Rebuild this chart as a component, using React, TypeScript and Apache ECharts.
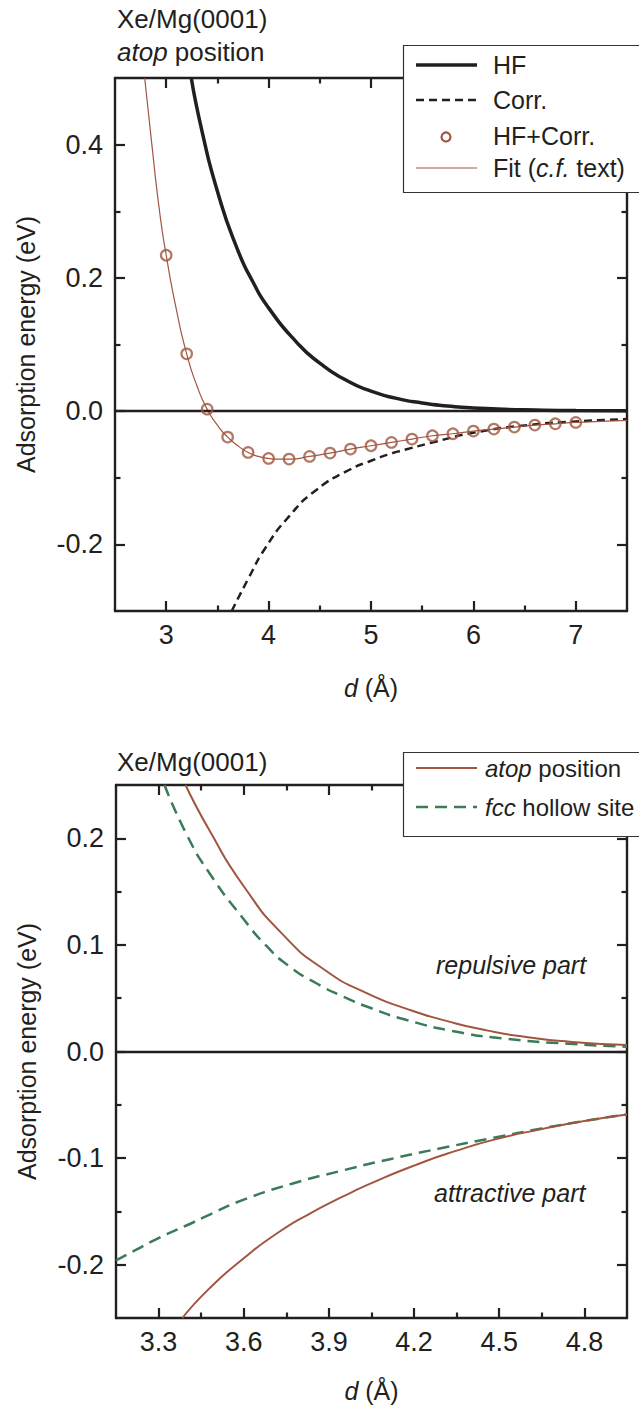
import React, { useEffect, useRef } from "react";
import * as echarts from "echarts";

const FONT = '"Liberation Sans", Arial, Helvetica, sans-serif';
const INK = "#231f20";
const BROWN = "#a0563f";
const GREEN = "#3b7b58";
const FS = 25;
const TICK_FS = 27;
const TITLE_FS = 26;

// ---------- top panel ----------
const topXMajor = [3, 4, 5, 6, 7];
const topXMinor = [3.5, 4.5, 5.5, 6.5];
const topYMajor = [-0.2, 0, 0.2, 0.4];
const topYMinor = [-0.1, 0.1, 0.3];

const hfCurve = [
  [3.245, 0.5], [3.35, 0.42], [3.5, 0.33], [3.69, 0.245], [3.85, 0.193], [4.0, 0.155],
  [4.27, 0.104], [4.5, 0.072], [4.75, 0.047], [5.0, 0.03], [5.25, 0.0192], [5.5, 0.0122],
  [5.75, 0.0077], [6.0, 0.0048], [6.5, 0.0019], [7.0, 0.0008], [7.5, 0.0004],
];
const corrCurve = [
  [3.64, -0.3], [3.81, -0.249], [3.97, -0.205], [4.2, -0.158], [4.46, -0.119],
  [4.79, -0.088], [5.0, -0.0745], [5.18, -0.0645], [5.33, -0.058], [5.64, -0.0455],
  [6.0, -0.0325], [6.5, -0.0215], [7.0, -0.0155], [7.5, -0.012],
];
const hfCorrD = [3.0, 3.2, 3.4, 3.6, 3.8, 4.0, 4.2, 4.4, 4.6, 4.8, 5.0, 5.2, 5.4, 5.6, 5.8, 6.0, 6.2, 6.4, 6.6, 6.8, 7.0];
const hfCorrE = [0.234, 0.086, 0.003, -0.039, -0.062, -0.071, -0.072, -0.068, -0.063, -0.057, -0.052, -0.047, -0.042, -0.037, -0.034, -0.03, -0.027, -0.024, -0.021, -0.019, -0.017];
const fitCurve = [
  [2.79, 0.5], [2.86, 0.4], [2.935, 0.3], [3.0, 0.234], [3.1, 0.152], [3.2, 0.086],
  [3.3, 0.038], [3.4, 0.003], [3.5, -0.021], [3.6, -0.039], [3.7, -0.052], [3.8, -0.062],
  [3.9, -0.068], [4.0, -0.071], [4.1, -0.072], [4.2, -0.072], [4.4, -0.068], [4.6, -0.063],
  [4.8, -0.057], [5.0, -0.052], [5.2, -0.047], [5.4, -0.042], [5.6, -0.037], [5.8, -0.034],
  [6.0, -0.03], [6.2, -0.027], [6.4, -0.024], [6.6, -0.021], [6.8, -0.019], [7.0, -0.017],
  [7.25, -0.0155], [7.5, -0.014],
];

// ---------- bottom panel ----------
const botXMajor = [3.3, 3.6, 3.9, 4.2, 4.5, 4.8];
const botXMinor = [3.45, 3.75, 4.05, 4.35, 4.65];
const botYMajor = [-0.2, -0.1, 0, 0.1, 0.2];
const botYMinor = [-0.15, -0.05, 0.05, 0.15];

const atopRepulsive = [
  [3.395, 0.25], [3.48, 0.207], [3.6, 0.155], [3.744, 0.108], [3.888, 0.076], [4.031, 0.055],
  [4.174, 0.04], [4.317, 0.0285], [4.46, 0.0196], [4.6, 0.0134], [4.747, 0.0092], [4.95, 0.0062],
];
const fccRepulsive = [
  [3.321, 0.25], [3.4, 0.203], [3.48, 0.167], [3.6, 0.124], [3.68, 0.099], [3.76, 0.08],
  [3.856, 0.064], [3.95, 0.0515], [4.045, 0.041], [4.174, 0.0295], [4.36, 0.018],
  [4.53, 0.0118], [4.747, 0.0072], [4.95, 0.0045],
];
const atopAttractive = [
  [3.384, -0.25], [3.48, -0.222], [3.6, -0.194], [3.715, -0.171], [3.833, -0.152],
  [3.95, -0.136], [4.05, -0.1235], [4.2, -0.107], [4.35, -0.093], [4.5, -0.0815],
  [4.65, -0.0728], [4.8, -0.0652], [4.95, -0.059],
];
const fccAttractive = [
  [3.15, -0.196], [3.22, -0.186], [3.3, -0.175], [3.4, -0.163], [3.48, -0.153], [3.6, -0.139],
  [3.77, -0.124], [3.95, -0.1115], [4.115, -0.101], [4.29, -0.091], [4.48, -0.081],
  [4.65, -0.0722], [4.8, -0.0652], [4.95, -0.059],
];

const txt = { fontSize: FS, fontFamily: FONT, color: INK };
const italic = { fontSize: FS, fontFamily: FONT, color: INK, fontStyle: "italic" };

function axisSet(dim: "x" | "y", grid: number, min: number, max: number, major: number[], minor: number[], decimals: number, name: string, nameGap: number) {
  const sides = dim === "x" ? ["bottom", "top"] : ["left", "right"];
  const out: any[] = [];
  sides.forEach((side, si) => {
    [major, minor].forEach((vals, k) => {
      out.push({
        type: "value",
        gridIndex: grid,
        position: side,
        min,
        max,
        splitLine: { show: false },
        axisLine: { show: k === 0, onZero: false, lineStyle: { color: INK, width: 2.4 } },
        axisTick: { show: true, inside: true, customValues: vals, length: k === 0 ? 10 : 5.5, lineStyle: { color: INK, width: 2.2 } },
        axisLabel: si === 0 && k === 0
          ? { show: true, customValues: vals, margin: dim === "x" ? 10 : 12, fontSize: TICK_FS, fontFamily: FONT, color: INK, formatter: (v: number) => Number(v).toFixed(decimals) }
          : { show: false },
        name: si === 0 && k === 0 ? name : "",
        nameLocation: "middle",
        nameGap,
        nameTextStyle: { ...txt, rich: { i: italic, n: txt } },
      });
    });
  });
  return out;
}

export default function App() {
  const ref = useRef<HTMLDivElement>(null);
  useEffect(() => {
    if (!ref.current) return;
    const chart = echarts.init(ref.current, undefined, { renderer: "svg" });
    const zeroLine = {
      silent: true,
      symbol: ["none", "none"],
      label: { show: false },
      lineStyle: { color: INK, width: 2.4, type: "solid" },
      emphasis: { disabled: true },
      data: [{ yAxis: 0 }],
    };
    const line = (xi: number, data: number[][], color: string, width: number, type: any, z = 3, extra: any = {}) => ({
      type: "line",
      xAxisIndex: xi,
      yAxisIndex: xi,
      data,
      showSymbol: false,
      smooth: 0.6,
      clip: true,
      z,
      lineStyle: { color, width, type },
      emphasis: { disabled: true },
      ...extra,
    });
    const G: any[] = [];
    const T = (x: number, y: number, text: string, size = FS) =>
      G.push({
        type: "text",
        x,
        y,
        z: 101,
        style: {
          text,
          fontSize: size,
          fontFamily: FONT,
          fill: INK,
          verticalAlign: "middle",
          align: "left",
          rich: {
            i: { fontSize: size, fontFamily: FONT, fill: INK, fontStyle: "italic" },
            n: { fontSize: size, fontFamily: FONT, fill: INK },
          },
        },
      });
    // titles
    T(117, 19, "{n|Xe/Mg(0001)}", TITLE_FS);
    T(117, 52, "{i|atop}{n| position}", TITLE_FS);
    T(117, 762, "{n|Xe/Mg(0001)}", TITLE_FS);
    // legend 1
    G.push({ type: "rect", z: 100, shape: { x: 403.5, y: 45.5, width: 250, height: 147 }, style: { fill: "#fff", stroke: "#333", lineWidth: 1.2 } });
    G.push({ type: "line", z: 101, shape: { x1: 416, y1: 65, x2: 477, y2: 65 }, style: { stroke: INK, lineWidth: 3.5 } });
    G.push({ type: "line", z: 101, shape: { x1: 416, y1: 100, x2: 477, y2: 100 }, style: { stroke: INK, lineWidth: 2.5, lineDash: [8, 5] } });
    G.push({ type: "circle", z: 101, shape: { cx: 446, cy: 137, r: 4.5 }, style: { fill: "none", stroke: BROWN, lineWidth: 2.2 } });
    G.push({ type: "line", z: 101, shape: { x1: 416, y1: 168, x2: 477, y2: 168 }, style: { stroke: BROWN, lineWidth: 1.2 } });
    T(493, 65, "{n|HF}");
    T(493, 100, "{n|Corr.}");
    T(493, 136, "{n|HF+Corr.}");
    T(493, 168, "{n|Fit (}{i|c.f.}{n| text)}");
    // legend 2
    G.push({ type: "rect", z: 100, shape: { x: 403.5, y: 752.5, width: 250, height: 84 }, style: { fill: "#fff", stroke: "#333", lineWidth: 1.2 } });
    G.push({ type: "line", z: 101, shape: { x1: 416, y1: 768, x2: 477, y2: 768 }, style: { stroke: BROWN, lineWidth: 2 } });
    G.push({ type: "line", z: 101, shape: { x1: 416, y1: 807, x2: 477, y2: 807 }, style: { stroke: GREEN, lineWidth: 2.5, lineDash: [12, 7] } });
    T(485, 768, "{i|atop}{n| position}", 24);
    T(485, 807, "{i|fcc}{n| hollow site}", 24);
    // annotations
    T(436, 965, "{i|repulsive part}");
    T(434, 1193, "{i|attractive part}");

    chart.setOption({
      animation: false,
      backgroundColor: "#fff",
      textStyle: { fontFamily: FONT },
      grid: [
        { left: 115, top: 78, width: 512, height: 533 },
        { left: 116, top: 785, width: 511, height: 533 },
      ],
      xAxis: [
        ...axisSet("x", 0, 2.5, 7.5, topXMajor, topXMinor, 0, "{i|d}{n| (Å)}", 64),
        ...axisSet("x", 1, 3.15, 4.95, botXMajor, botXMinor, 1, "{i|d}{n| (Å)}", 60),
      ],
      yAxis: [
        ...axisSet("y", 0, -0.3, 0.5, topYMajor, topYMinor, 1, "Adsorption energy (eV)", 77),
        ...axisSet("y", 1, -0.25, 0.25, botYMajor, botYMinor, 1, "Adsorption energy (eV)", 77),
      ],
      series: [
        line(0, hfCurve, INK, 3.5, "solid", 3, { markLine: zeroLine }),
        line(0, corrCurve, INK, 2.5, [8, 5]),
        line(0, fitCurve, BROWN, 1.2, "solid", 4),
        {
          type: "scatter",
          xAxisIndex: 0,
          yAxisIndex: 0,
          data: hfCorrD.map((d, i) => [d, hfCorrE[i]]),
          symbol: "circle",
          symbolSize: 10.5,
          z: 5,
          itemStyle: { color: "rgba(255,255,255,0)", borderColor: BROWN, borderWidth: 2.2 },
          emphasis: { disabled: true },
        },
        line(4, atopRepulsive, BROWN, 2, "solid", 4, { markLine: zeroLine }),
        line(4, fccRepulsive, GREEN, 2.5, [12, 7]),
        line(4, atopAttractive, BROWN, 2, "solid", 4),
        line(4, fccAttractive, GREEN, 2.5, [12, 7]),
      ],
      graphic: G,
    });
    return () => chart.dispose();
  }, []);
  return <div ref={ref} style={{ position: "absolute", left: 0, top: 0, width: 639, height: 1414 }} />;
}
